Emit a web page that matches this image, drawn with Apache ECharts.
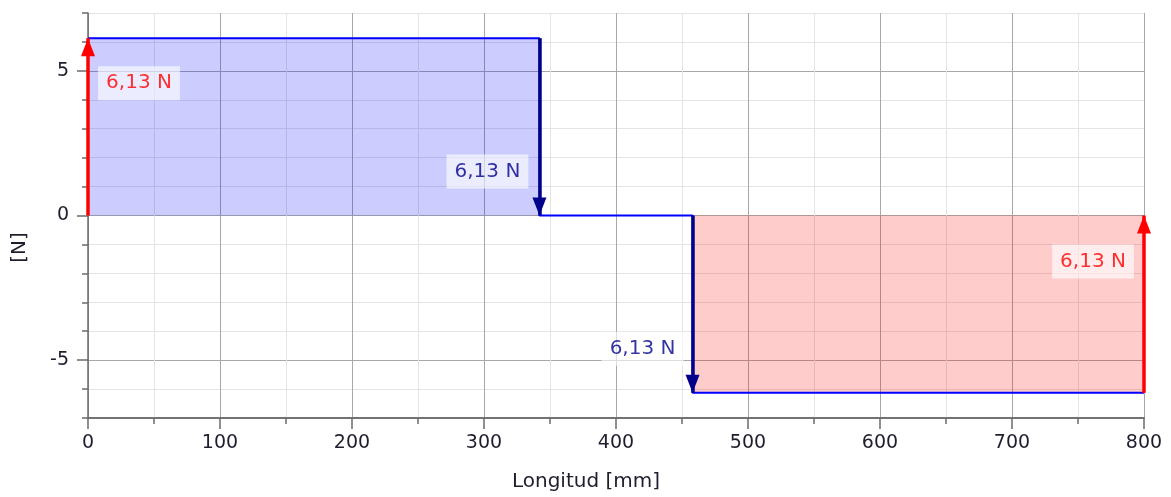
<!DOCTYPE html>
<html>
<head>
<meta charset="utf-8">
<script src="https://cdn.jsdelivr.net/npm/echarts@6/dist/echarts.min.js"></script>
<style>
html,body{margin:0;padding:0;background:#fff;}
#chart{width:1171px;height:497px;}
</style>
</head>
<body>
<div id="chart"></div>
<script>
// ---- data ----
const stepX = [0, 342, 342, 458, 458, 800];
const shearN = [6.13, 6.13, 0, 0, -6.13, -6.13];
const posX = [0, 342];
const posV = [6.13, 6.13];
const negX = [458, 800];
const negV = [-6.13, -6.13];
const forceX = [0, 342, 458, 800];
const forceFrom = [0, 6.13, 0, -6.13];
const forceTo = [6.13, 0, -6.13, 0];
const forceText = ['6,13 N', '6,13 N', '6,13 N', '6,13 N'];
const forceKind = ['reaction', 'load', 'load', 'reaction'];
const xTickLabels = ['0', '100', '200', '300', '400', '500', '600', '700', '800'];
const yTickLabels = ['-5', '0', '5'];

// ---- styles ----
const FONT = 'DejaVu Sans';
const RED = '#ff0000';
const NAVY = '#00008b';
const AXIS = '#6b6b6b';
const MAJOR = '#a8a8a8';
const MINOR = '#e4e4e4';
const TXT = '#1e1e2e';
const kindColor = { reaction: RED, load: NAVY };
const labelOffsets = [[51, 45], [-52, -44], [-50, -44], [-51, 46]];

const zip = (a, b) => a.map((v, i) => [v, b[i]]);

const chart = echarts.init(document.getElementById('chart'));
chart.setOption({
  animation: false,
  backgroundColor: '#fff',
  grid: { left: 88, right: 27, top: 13, bottom: 78, containLabel: false },
  xAxis: [
    {
      type: 'value', min: 0, max: 800, interval: 50, position: 'bottom',
      axisLine: { show: true, onZero: false, lineStyle: { color: AXIS, width: 1.5 } },
      axisTick: { show: true, length: 6, lineStyle: { color: AXIS, width: 1.5 } },
      axisLabel: { show: false },
      splitLine: { show: true, lineStyle: { color: [MAJOR, MINOR], width: 1 } }
    },
    {
      type: 'value', min: 0, max: 800, interval: 100, position: 'bottom',
      name: 'Longitud [mm]', nameLocation: 'middle', nameGap: 54,
      nameTextStyle: { fontFamily: FONT, fontSize: 20, color: TXT, padding: [0, 60, 0, 0] },
      axisLine: { show: true, onZero: false, lineStyle: { color: AXIS, width: 1.5 } },
      axisTick: { show: true, length: 11, lineStyle: { color: AXIS, width: 1.5 } },
      axisLabel: {
        show: true, margin: 16, fontFamily: FONT, fontSize: 19, color: TXT,
        formatter: v => xTickLabels[xTickLabels.indexOf(String(v))] || ''
      },
      splitLine: { show: false }
    }
  ],
  yAxis: [
    {
      type: 'value', min: -7, max: 7, interval: 1, position: 'left',
      name: '[N]', nameLocation: 'middle', nameGap: 58, nameRotate: 90,
      nameTextStyle: { fontFamily: FONT, fontSize: 20, color: TXT, padding: [0, 64, 0, 0] },
      axisLine: { show: true, onZero: false, lineStyle: { color: AXIS, width: 1.5 } },
      axisTick: { show: true, length: 6, lineStyle: { color: AXIS, width: 1.5 } },
      axisLabel: {
        show: true, margin: 19, fontFamily: FONT, fontSize: 19, color: TXT,
        formatter: v => yTickLabels.indexOf(String(v)) >= 0 ? String(v) : ''
      },
      splitLine: { show: true, lineStyle: { color: [MINOR, MINOR, MAJOR, MINOR, MINOR], width: 1 } }
    },
    {
      type: 'value', min: -7, max: 7, position: 'left',
      axisLine: { show: false },
      axisTick: { show: true, length: 11, customValues: yTickLabels.map(Number), lineStyle: { color: AXIS, width: 1.5 } },
      axisLabel: { show: false, customValues: yTickLabels.map(Number) },
      splitLine: { show: false }
    }
  ],
  series: [
    {
      type: 'line', data: zip(posX, posV), symbol: 'none', silent: true,
      lineStyle: { width: 0 }, areaStyle: { color: 'rgba(0,0,255,0.2)', opacity: 1, origin: 0 }, z: 2
    },
    {
      type: 'line', data: zip(negX, negV), symbol: 'none', silent: true,
      lineStyle: { width: 0 }, areaStyle: { color: 'rgba(255,0,0,0.2)', opacity: 1, origin: 0 }, z: 2
    },
    {
      type: 'line', data: zip(stepX, shearN), symbol: 'none', silent: true,
      lineStyle: { color: '#0000ff', width: 2 }, z: 3,
      markLine: {
        silent: true, animation: false,
        symbol: ['none', 'triangle'], symbolSize: 16, symbolOffset: [0, [0, 8]],
        label: { show: false },
        emphasis: { disabled: true },
        data: forceX.map((x, i) => [
          { coord: [x, forceFrom[i]], lineStyle: { color: kindColor[forceKind[i]], width: 3.5, type: 'solid' },
            itemStyle: { color: kindColor[forceKind[i]] } },
          { coord: [x, forceTo[i]], symbol: 'triangle', symbolSize: [14, 18], symbolOffset: [0, 9] }
        ])
      }
    },
    {
      type: 'scatter', symbolSize: 0, silent: true, z: 10,
      data: forceX.map((x, i) => ({
        value: [x, forceTo[i]],
        label: {
          show: true, position: 'inside', offset: labelOffsets[i],
          formatter: forceText[i], color: kindColor[forceKind[i]],
          fontFamily: FONT, fontSize: 20, lineHeight: 24,
          backgroundColor: 'rgba(255,255,255,0.78)', padding: [5, 8, 5, 8]
        }
      }))
    }
  ]
});
</script>
</body>
</html>
